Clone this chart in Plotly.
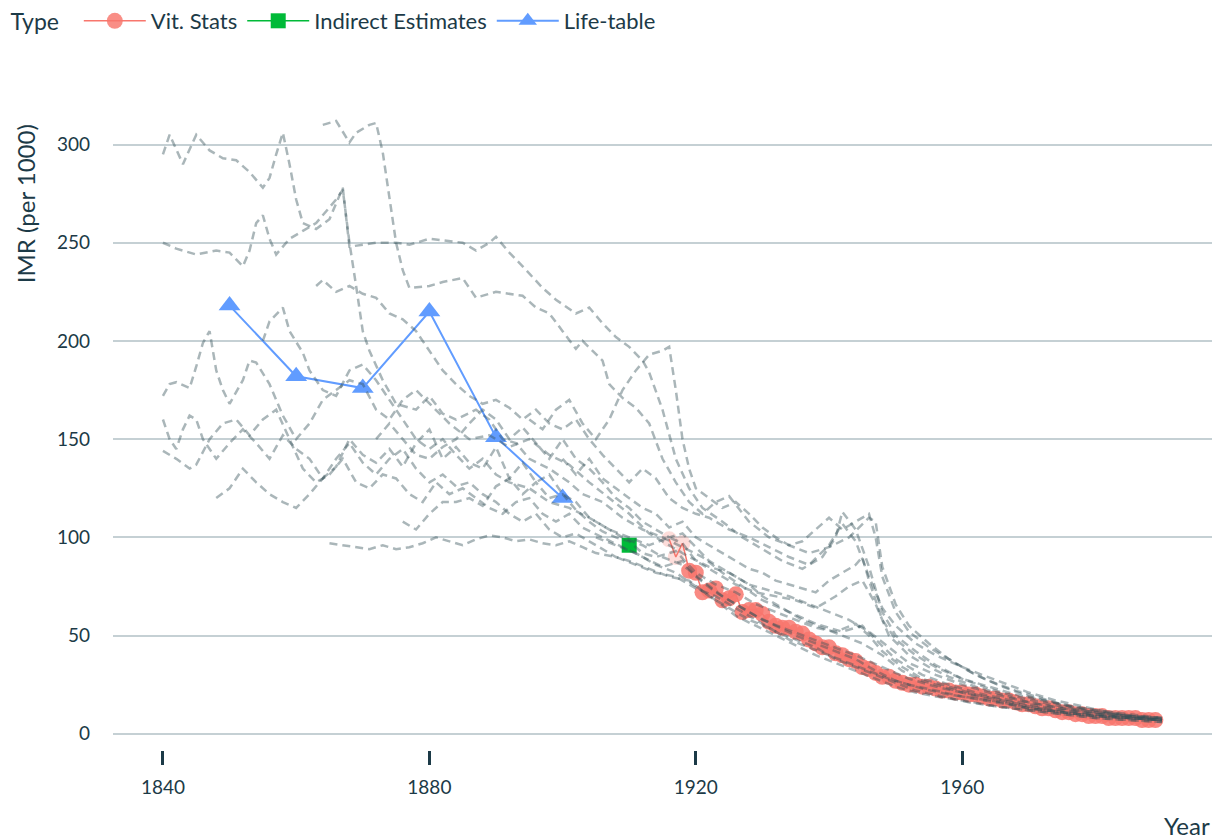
import plotly.graph_objects as go

# ---------------- data ----------------
vit_years = list(range(1916, 1990))
vit_imr = [99, 90, 97, 83, 82, 72, 73, 74, 68, 69, 71, 62, 63, 63, 61, 57, 55, 54, 54, 52,
           51, 48, 46, 44, 44, 41, 40, 38, 37, 34, 33, 31, 29, 29, 27, 26, 25, 25, 24, 24,
           23, 22, 22, 21, 21, 20, 20, 19, 18, 18, 17, 17, 16, 15, 15, 14, 13, 13, 12, 11,
           11, 10, 10, 9, 9, 9, 8, 8, 8, 8, 8, 7, 7, 7]
vit_alpha = [0.25, 0.25, 0.25] + [0.85] * (len(vit_years) - 3)

indirect_years = [1910]
indirect_imr = [96]

life_years = [1850, 1860, 1870, 1880, 1890, 1900]
life_imr = [218, 182, 176, 215, 151, 120]

grey_01 = [(1840,295),(1841,305),(1843,290),(1845,305),(1847,297),(1849,293),(1851,292),(1853,286),(1855,278),(1856,283),(1857,295),(1858,306),(1859,290),(1860,272),(1861,260),(1863,257),(1865,262),(1866,270),(1867,278),(1868,248),(1870,249),(1872,250),(1875,250),(1877,249),(1880,252),(1883,251),(1885,250),(1887,246),(1889,250),(1890,253),(1892,245),(1894,238),(1897,227),(1899,221),(1902,214),(1904,217),(1906,209),(1908,202),(1910,197),(1912,190),(1913,184),(1915,165),(1917,140),(1919,125),(1921,115),(1924,108),(1927,100),(1930,94),(1933,88),(1936,84),(1939,90),(1941,100),(1942,113),(1944,104),(1946,85),(1948,62),(1950,50),(1953,42),(1956,35),(1960,28),(1964,23),(1968,19),(1972,16),(1976,13),(1980,11),(1985,9),(1990,7)]
grey_02 = [(1864,310),(1866,312),(1868,301),(1869,306),(1871,310),(1872,311),(1873,296),(1874,272),(1875,250),(1876,236),(1877,227),(1880,228),(1882,230),(1885,232),(1887,222),(1890,225),(1894,223),(1896,217),(1898,214),(1900,205),(1902,196),(1903,200),(1906,190),(1907,178),(1909,171),(1911,166),(1913,158),(1915,140),(1917,128),(1919,118),(1921,112),(1923,118),(1925,121),(1928,108),(1931,100),(1934,96),(1937,92),(1940,95),(1943,100),(1946,110),(1947,108),(1948,85),(1950,66),(1952,55),(1955,46),(1958,38),(1962,30),(1966,24),(1970,19),(1975,15),(1980,12),(1985,9),(1990,8)]
grey_03 = [(1840,250),(1842,247),(1845,244),(1848,246),(1850,245),(1852,238),(1853,246),(1854,260),(1855,264),(1856,252),(1857,244),(1859,252),(1861,256),(1863,260),(1865,268),(1866,272),(1867,277),(1868,250),(1869,228),(1870,205),(1871,195),(1873,180),(1875,168),(1878,165),(1880,172),(1882,163),(1884,160),(1887,165),(1889,160),(1891,150),(1893,148),(1895,140),(1898,135),(1901,128),(1903,122),(1906,118),(1909,110),(1912,104),(1915,100),(1918,95),(1921,90),(1924,82),(1927,75),(1930,68),(1934,62),(1938,56),(1942,52),(1945,55),(1947,48),(1950,38),(1954,30),(1958,25),(1962,21),(1966,18),(1970,15),(1975,12),(1980,10),(1985,8),(1990,7)]
grey_04 = [(1840,172),(1841,178),(1842,179),(1844,176),(1845,187),(1846,199),(1847,205),(1848,185),(1849,175),(1850,168),(1852,180),(1853,190),(1854,189),(1856,178),(1858,162),(1860,150),(1862,158),(1864,170),(1866,175),(1868,180),(1870,178),(1872,165),(1874,160),(1876,170),(1878,175),(1880,168),(1883,158),(1886,150),(1889,152),(1892,146),(1895,150),(1898,142),(1901,137),(1904,128),(1907,120),(1910,112),(1913,102),(1916,96),(1919,90),(1922,85),(1925,82),(1928,76),(1931,73),(1934,70),(1937,66),(1940,62),(1943,58),(1946,52),(1949,44),(1952,36),(1956,30),(1960,25),(1965,20),(1970,16),(1975,13),(1980,10),(1985,9),(1990,8)]
grey_05 = [(1840,160),(1841,150),(1842,145),(1843,155),(1844,162),(1845,160),(1846,150),(1848,140),(1850,148),(1852,155),(1854,148),(1856,140),(1858,152),(1860,145),(1862,140),(1864,130),(1866,136),(1868,150),(1870,142),(1872,138),(1874,145),(1876,136),(1878,148),(1880,155),(1882,140),(1884,146),(1886,138),(1888,135),(1890,146),(1892,130),(1894,138),(1896,128),(1898,132),(1900,122),(1902,118),(1904,110),(1906,106),(1909,100),(1912,96),(1915,90),(1918,86),(1921,78),(1924,70),(1927,64),(1930,58),(1933,54),(1936,50),(1940,45),(1944,40),(1948,34),(1952,28),(1956,24),(1960,21),(1965,18),(1970,14),(1975,12),(1980,10),(1985,8),(1990,7)]
grey_06 = [(1840,144),(1842,140),(1844,135),(1845,137),(1847,150),(1849,158),(1851,160),(1853,152),(1855,160),(1857,165),(1859,150),(1861,135),(1863,128),(1865,132),(1867,140),(1869,128),(1871,125),(1873,132),(1875,130),(1877,122),(1879,118),(1881,128),(1883,122),(1885,125),(1887,120),(1889,115),(1891,112),(1893,118),(1895,120),(1897,112),(1899,108),(1901,112),(1903,105),(1906,100),(1909,95),(1912,90),(1915,85),(1918,88),(1920,80),(1923,72),(1926,66),(1929,60),(1932,55),(1935,50),(1938,46),(1941,42),(1944,38),(1947,32),(1950,27),(1954,23),(1958,20),(1962,18),(1966,16),(1970,13),(1975,11),(1980,9),(1985,8),(1990,7)]
grey_07 = [(1855,200),(1856,210),(1858,217),(1859,205),(1861,194),(1862,185),(1864,175),(1866,172),(1868,185),(1870,188),(1872,180),(1874,170),(1876,160),(1878,150),(1880,145),(1882,150),(1884,142),(1886,135),(1888,140),(1890,132),(1892,128),(1895,125),(1898,118),(1901,115),(1904,110),(1907,104),(1910,100),(1913,96),(1916,100),(1918,97),(1920,88),(1923,82),(1926,76),(1929,72),(1932,70),(1935,68),(1938,64),(1941,70),(1943,75),(1945,78),(1947,66),(1949,50),(1952,40),(1955,34),(1958,29),(1962,24),(1966,20),(1970,16),(1975,13),(1980,11),(1985,9),(1990,7)]
grey_08 = [(1863,228),(1864,231),(1866,225),(1868,228),(1870,224),(1872,222),(1874,214),(1876,211),(1878,205),(1880,195),(1882,185),(1884,178),(1886,172),(1888,168),(1890,170),(1892,166),(1894,160),(1896,165),(1898,158),(1900,155),(1902,160),(1904,150),(1906,142),(1908,135),(1910,128),(1912,135),(1914,130),(1916,120),(1918,115),(1920,112),(1922,110),(1925,104),(1928,100),(1931,95),(1934,90),(1937,86),(1940,96),(1942,107),(1944,98),(1946,80),(1948,64),(1950,55),(1953,46),(1956,40),(1960,34),(1963,30),(1966,26),(1970,21),(1974,17),(1978,14),(1982,11),(1986,9),(1990,8)]
grey_09 = [(1865,97),(1867,96),(1869,95),(1871,94),(1873,96),(1875,94),(1877,95),(1879,97),(1881,100),(1883,98),(1885,96),(1887,99),(1889,101),(1891,100),(1893,98),(1895,99),(1897,97),(1899,96),(1901,98),(1903,95),(1905,92),(1908,90),(1911,86),(1914,82),(1917,80),(1920,74),(1923,70),(1926,64),(1929,58),(1932,52),(1935,48),(1938,44),(1941,38),(1944,34),(1947,30),(1950,26),(1953,22),(1957,19),(1961,16),(1965,14),(1970,12),(1975,10),(1980,8),(1985,7),(1990,6)]
grey_10 = [(1876,108),(1878,104),(1880,112),(1882,118),(1884,118),(1886,120),(1888,116),(1890,126),(1892,130),(1894,122),(1896,128),(1898,120),(1900,122),(1902,114),(1904,108),(1906,103),(1908,100),(1910,98),(1912,92),(1914,90),(1917,93),(1920,82),(1923,76),(1926,72),(1929,66),(1932,62),(1935,58),(1938,54),(1941,52),(1944,56),(1946,50),(1948,42),(1951,34),(1954,28),(1958,24),(1962,20),(1966,17),(1970,14),(1975,11),(1980,9),(1985,8),(1990,7)]
grey_11 = [(1895,160),(1897,155),(1899,165),(1901,170),(1903,158),(1905,150),(1907,160),(1909,175),(1911,185),(1913,193),(1915,195),(1916,197),(1917,175),(1918,150),(1919,135),(1920,125),(1922,120),(1924,115),(1926,118),(1928,112),(1930,105),(1932,100),(1934,96),(1936,98),(1938,104),(1940,110),(1942,104),(1944,108),(1945,110),(1946,112),(1947,100),(1948,80),(1950,62),(1952,52),(1955,44),(1958,38),(1961,32),(1964,27),(1968,22),(1972,18),(1976,14),(1980,11),(1985,9),(1990,8)]
grey_12 = [(1872,150),(1874,158),(1876,150),(1878,142),(1880,140),(1882,146),(1884,150),(1886,158),(1888,165),(1890,160),(1892,150),(1894,156),(1896,148),(1898,140),(1900,150),(1902,140),(1904,135),(1906,128),(1908,120),(1910,115),(1912,108),(1914,104),(1916,100),(1918,102),(1920,95),(1922,88),(1924,84),(1926,80),(1928,76),(1930,70),(1933,64),(1936,58),(1939,54),(1942,50),(1945,46),(1948,40),(1951,32),(1954,27),(1958,23),(1962,19),(1966,16),(1970,13),(1975,11),(1980,9),(1985,8),(1990,7)]
grey_13 = [(1848,120),(1850,125),(1852,135),(1854,128),(1856,122),(1858,118),(1860,115),(1862,122),(1864,130),(1866,140),(1868,148),(1870,138),(1872,132),(1874,140),(1876,145),(1878,135),(1880,128),(1882,132),(1884,126),(1886,128),(1888,122),(1890,118),(1892,112),(1894,108),(1896,112),(1898,104),(1900,100),(1902,102),(1904,98),(1906,94),(1908,90),(1910,88),(1913,84),(1916,80),(1919,78),(1922,70),(1925,64),(1928,58),(1931,54),(1934,48),(1937,44),(1940,40),(1943,36),(1946,32),(1949,28),(1952,25),(1956,22),(1960,19),(1965,16),(1970,13),(1975,11),(1980,9),(1985,8),(1990,7)]
grey_14 = [(1900,140),(1902,132),(1904,140),(1906,130),(1908,125),(1910,120),(1912,115),(1914,112),(1916,105),(1918,108),(1920,100),(1922,96),(1924,92),(1926,88),(1928,84),(1930,82),(1932,78),(1934,76),(1936,74),(1938,72),(1940,78),(1942,82),(1944,86),(1945,90),(1946,78),(1948,58),(1950,48),(1953,40),(1956,34),(1960,28),(1964,24),(1968,20),(1972,17),(1976,14),(1980,12),(1985,10),(1990,8)]
grey_15 = [(1905,100),(1908,96),(1911,92),(1914,86),(1917,82),(1920,75),(1923,68),(1926,60),(1929,55),(1932,50),(1935,45),(1938,40),(1941,36),(1944,32),(1947,28),(1950,24),(1953,21),(1956,19),(1960,17),(1965,14),(1970,12),(1975,10),(1980,8),(1985,7),(1990,6)]

grey_series = [grey_01, grey_02, grey_03, grey_04, grey_05, grey_06, grey_07, grey_08,
               grey_09, grey_10, grey_11, grey_12, grey_13, grey_14, grey_15]

x_ticks = [1840, 1880, 1920, 1960]
y_ticks = [0, 50, 100, 150, 200, 250, 300]

# ---------------- style ----------------
TEXT = "#1c3a47"
GRID = "#c5d0d4"
FONT = "Lato"

fig = go.Figure()

fig.add_trace(go.Scatter(
    x=vit_years, y=vit_imr, mode="lines+markers", name="Vit. Stats",
    line=dict(color="#F8766D", width=1.5),
    marker=dict(color="#F8766D", size=16, opacity=vit_alpha, line=dict(width=0)),
))
fig.add_trace(go.Scatter(
    x=indirect_years, y=indirect_imr, mode="lines+markers", name="Indirect Estimates",
    line=dict(color="#00BA38", width=1.5),
    marker=dict(color="#00BA38", size=15, symbol="square"),
))
fig.add_trace(go.Scatter(
    x=life_years, y=life_imr, mode="lines+markers", name="Life-table",
    line=dict(color="#619CFF", width=2),
    marker=dict(color="#619CFF", size=19, symbol="triangle-up"),
))

for s in grey_series:
    fig.add_trace(go.Scatter(
        x=[p[0] for p in s], y=[p[1] for p in s], mode="lines",
        line=dict(color="rgba(52,82,88,0.42)", width=2.5, dash="8px,5px"),
        showlegend=False, hoverinfo="skip",
    ))

fig.update_layout(
    width=1219, height=839,
    margin=dict(l=113, r=7, t=91, b=89),
    paper_bgcolor="white", plot_bgcolor="white",
    font=dict(family=FONT, color=TEXT, size=19),
    legend=dict(
        orientation="h", xref="container", yref="container",
        x=0.007, y=1.0, xanchor="left", yanchor="top",
        title=dict(text="Type  ", font=dict(size=23, color=TEXT)),
        font=dict(size=22, color=TEXT), itemwidth=62,
        traceorder="normal",
    ),
    xaxis=dict(
        range=[1832.5, 1997.5], tickvals=x_ticks, showgrid=False, zeroline=False,
        showline=False, ticks="outside", ticklen=14, tickwidth=3, tickcolor=TEXT,
        tickfont=dict(size=19, color=TEXT), ticklabelstandoff=6,
    ),
    yaxis=dict(
        range=[-8.25, 327.25], tickvals=y_ticks, showgrid=True, gridcolor=GRID,
        gridwidth=2, zeroline=False, showline=False, ticks="",
        tickfont=dict(size=19, color=TEXT), ticklabelstandoff=22,
    ),
    annotations=[
        dict(text="IMR (per 1000)", textangle=-90, xref="paper", yref="paper",
             x=0, y=0.952, xshift=-88, xanchor="center", yanchor="top",
             showarrow=False, font=dict(size=24, color=TEXT)),
        dict(text="Year", xref="paper", yref="paper", x=1, y=0,
             xanchor="right", yanchor="middle", yshift=-75,
             showarrow=False, font=dict(size=24, color=TEXT)),
    ],
)

fig.write_html(
    "out.html",
    config={"displayModeBar": False},
    post_script="document.body.style.margin='0';document.body.style.overflow='hidden';",
)
